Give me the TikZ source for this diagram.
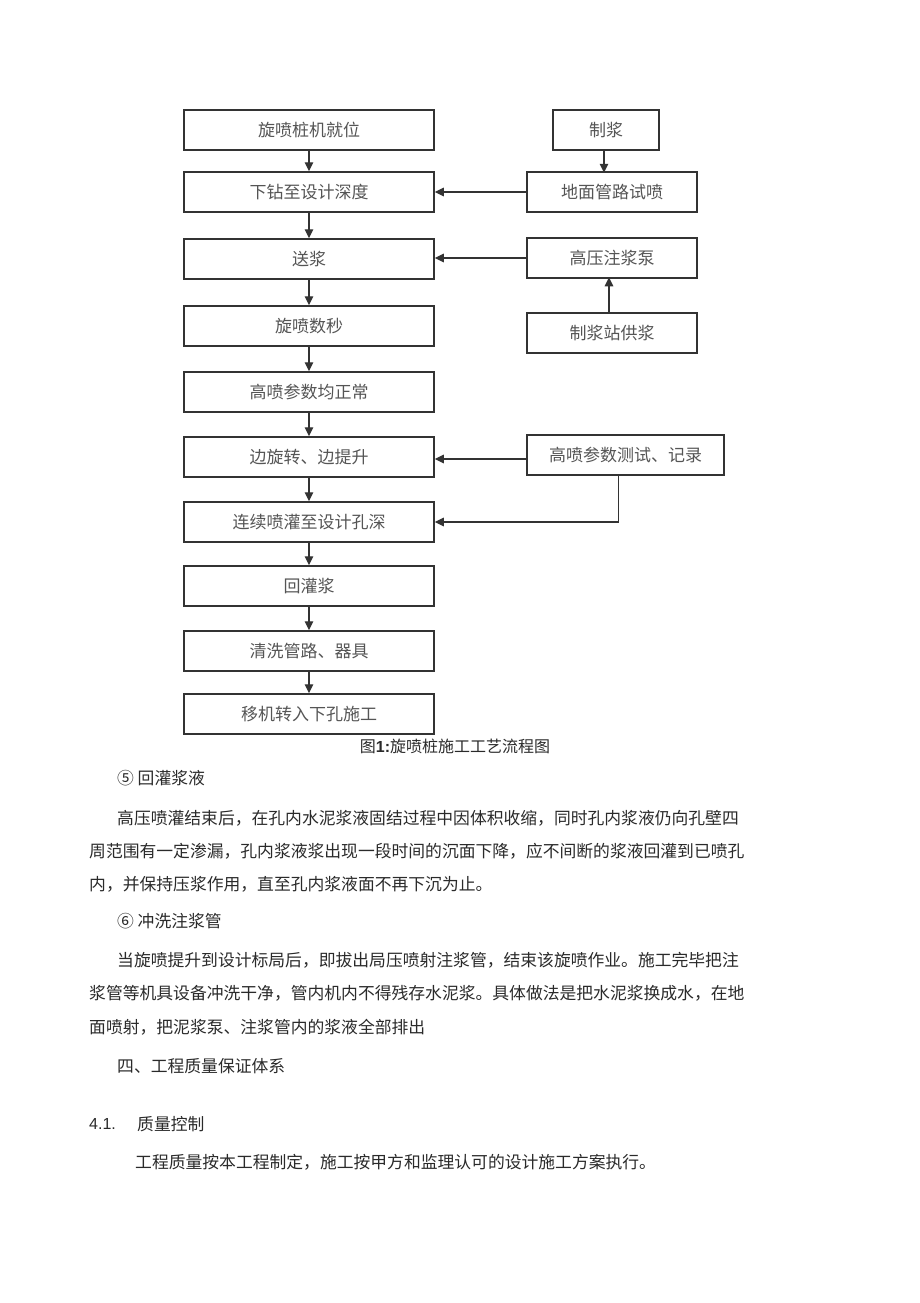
\documentclass[tikz,border=0pt]{standalone}
\usepackage{fontspec}
\newfontfamily\cjk{Noto Sans CJK SC}
\newfontfamily\arial{Liberation Sans}
\usetikzlibrary{arrows.meta}
\definecolor{linec}{HTML}{333333}
\definecolor{boxtext}{HTML}{555555}
\definecolor{bodytext}{HTML}{2A2A2A}
\begin{document}
\begin{tikzpicture}[x=1pt,y=-1pt,
  box/.style={draw=linec, line width=1.5pt, inner sep=0pt, text=boxtext,
    minimum height=40pt, font=\cjk\fontsize{17}{17}\selectfont},
  lbox/.style={box, minimum width=250pt},
  rbox/.style={box, minimum width=170pt},
  arr/.style={draw=linec, line width=1.4pt, -{Triangle[length=9pt,width=8.5pt]}},
  para/.style={anchor=west, inner sep=0pt, text=bodytext, font=\cjk\fontsize{16.8}{17}\selectfont}]
\useasboundingbox (0,0) rectangle (920,1303);
\fill[white] (0,0) rectangle (920,1303);
% left column
\node[lbox] (b1) at (309,130) {旋喷桩机就位};
\node[lbox] (b2) at (309,192) {下钻至设计深度};
\node[lbox] (b3) at (309,259) {送浆};
\node[lbox] (b4) at (309,326) {旋喷数秒};
\node[lbox] (b5) at (309,392) {高喷参数均正常};
\node[lbox] (b6) at (309,457) {边旋转、边提升};
\node[lbox] (b7) at (309,522) {连续喷灌至设计孔深};
\node[lbox] (b8) at (309,586) {回灌浆};
\node[lbox] (b9) at (309,651) {清洗管路、器具};
\node[lbox] (b10) at (309,714) {移机转入下孔施工};
% right column
\node[box, minimum width=106pt] (r1) at (606,130) {制浆};
\node[rbox] (r2) at (612,192) {地面管路试喷};
\node[rbox] (r3) at (612,258) {高压注浆泵};
\node[rbox] (r4) at (612,333) {制浆站供浆};
\node[box, minimum width=197pt] (r5) at (625.5,455) {高喷参数测试、记录};
% left arrows
\foreach \a/\b in {b1/b2,b2/b3,b3/b4,b4/b5,b5/b6,b6/b7,b7/b8,b8/b9,b9/b10}
  \draw[arr] (\a.south) -- (\b.north);
% right arrows
\draw[arr] (r1.south) ++(-2,0) -- ++(0,22);
\draw[arr] (r2.west) -- (r2.west -| b2.east);
\draw[arr] (r3.west) -- (r3.west -| b3.east);
\draw[arr] (r4.north) ++(-3,0) -- ++(0,-35);
\draw[arr] (r5.west |- b6.east) ++(0,2) -- (b6.east |- 0,459);
\draw[arr] (r5.south) ++(-7,0) |- (b7.east);
% caption
\node[inner sep=0pt, text=bodytext, font=\cjk\fontsize{16}{17}\selectfont] (cap) at (455,746)
  {图{\arial\bfseries 1:}旋喷桩施工工艺流程图};
% body text
\node[para] (p1) at (117,778) {⑤ 回灌浆液};
\node[para] (p2) at (117,818) {高压喷灌结束后，在孔内水泥浆液固结过程中因体积收缩，同时孔内浆液仍向孔壁四};
\node[para] (p3) at (89,851) {周范围有一定渗漏，孔内浆液浆出现一段时间的沉面下降，应不间断的浆液回灌到已喷孔};
\node[para] (p4) at (89,884) {内，并保持压浆作用，直至孔内浆液面不再下沉为止。};
\node[para] (p5) at (117,921) {⑥ 冲洗注浆管};
\node[para] (p6) at (117,960) {当旋喷提升到设计标局后，即拔出局压喷射注浆管，结束该旋喷作业。施工完毕把注};
\node[para] (p7) at (89,993) {浆管等机具设备冲洗干净，管内机内不得残存水泥浆。具体做法是把水泥浆换成水，在地};
\node[para] (p8) at (89,1027) {面喷射，把泥浆泵、注浆管内的浆液全部排出};
\node[para] (p9) at (117,1066) {四、工程质量保证体系};
\node[para, font=\arial\fontsize{16}{17}\selectfont] (p10) at (89,1124) {4.1.};
\node[para] (p11) at (137,1124) {质量控制};
\node[para] (p12) at (135,1162) {工程质量按本工程制定，施工按甲方和监理认可的设计施工方案执行。};
\end{tikzpicture}
\end{document}
